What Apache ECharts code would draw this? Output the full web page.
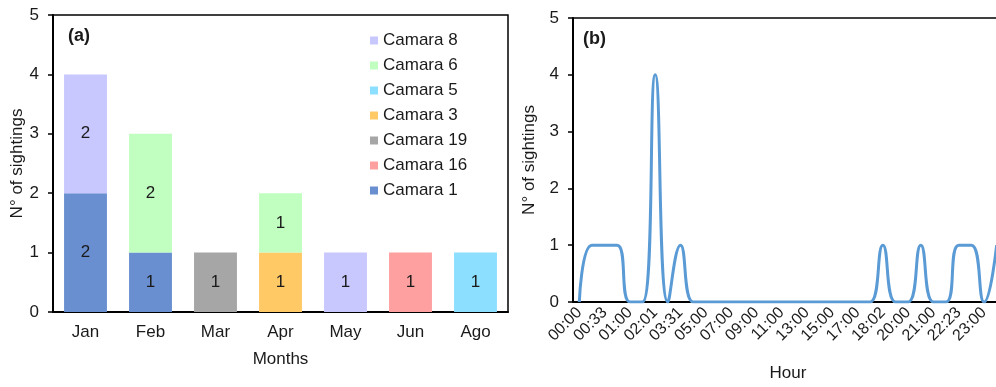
<!DOCTYPE html>
<html>
<head>
<meta charset="utf-8">
<script src="https://cdn.jsdelivr.net/npm/echarts@6/dist/echarts.min.js"></script>
<style>
  html, body { margin: 0; padding: 0; background: #fff; overflow: hidden; }
  /* the original figure is cropped on the right, so the canvas runs past the window */
  #chart { width: 1006px; height: 387px; }
</style>
</head>
<body>
<div id="chart"></div>
<script>
  // panel (a): sightings per month, stacked by camera
  const months = ['Jan', 'Feb', 'Mar', 'Apr', 'May', 'Jun', 'Ago'];
  const camara1 = [2, 1, 0, 0, 0, 0, 0];
  const camara16 = [0, 0, 0, 0, 0, 1, 0];
  const camara19 = [0, 0, 1, 0, 0, 0, 0];
  const camara3 = [0, 0, 0, 1, 0, 0, 0];
  const camara5 = [0, 0, 0, 0, 0, 0, 1];
  const camara6 = [0, 2, 0, 1, 0, 0, 0];
  const camara8 = [2, 0, 0, 0, 1, 0, 0];

  // panel (b): sightings per hour
  const hours = ['00:00', '00:15', '00:33', '00:45', '01:00', '01:30', '02:01', '03:00',
    '03:31', '04:00', '05:00', '06:00', '07:00', '08:00', '09:00', '10:00', '11:00',
    '12:00', '13:00', '14:00', '15:00', '16:00', '17:00', '18:00', '18:02', '19:00',
    '20:00', '20:30', '21:00', '22:00', '22:23', '22:45', '23:00', '23:30'];
  const hourSightings = [0, 1, 1, 1, 0, 0, 4, 0, 1, 0, 0, 0, 0, 0, 0, 0, 0,
    0, 0, 0, 0, 0, 0, 0, 1, 0, 0, 1, 0, 0, 1, 1, 0, 1];

  const font = "'Liberation Sans', Arial, sans-serif";
  const ink = '#1a1a1a';

  const stack = [
    { name: 'Camara 1', data: camara1, color: '#6A8FD0' },
    { name: 'Camara 16', data: camara16, color: '#FFA0A0' },
    { name: 'Camara 19', data: camara19, color: '#A6A6A6' },
    { name: 'Camara 3', data: camara3, color: '#FFC966' },
    { name: 'Camara 5', data: camara5, color: '#8CDFFF' },
    { name: 'Camara 6', data: camara6, color: '#C0FFC0' },
    { name: 'Camara 8', data: camara8, color: '#C8C8FF' }
  ];

  const valueAxis = (gridIndex, gap) => ({
    type: 'value',
    gridIndex: gridIndex,
    min: 0,
    max: 5,
    interval: 1,
    name: 'N° of sightings',
    nameLocation: 'middle',
    nameGap: gap,
    nameTextStyle: { fontFamily: font, fontSize: 17, color: ink },
    axisLine: { show: true, lineStyle: { color: '#000', width: 2 } },
    axisTick: { show: true, length: 5, lineStyle: { color: '#000', width: 1.5 } },
    axisLabel: { fontFamily: font, fontSize: 17, color: ink, margin: 14 },
    splitLine: { show: false }
  });

  const chart = echarts.init(document.getElementById('chart'));
  chart.setOption({
    animation: false,
    textStyle: { fontFamily: font },
    grid: [
      { left: 53, top: 15, width: 455, height: 297, show: true, borderColor: '#000', borderWidth: 1.5 },
      { left: 573, top: 18, width: 430, height: 291, show: true, borderColor: '#000', borderWidth: 1.5 }
    ],
    legend: {
      data: ['Camara 8', 'Camara 6', 'Camara 5', 'Camara 3', 'Camara 19', 'Camara 16', 'Camara 1'],
      orient: 'vertical',
      left: 370,
      top: 32,
      padding: 0,
      icon: 'rect',
      itemWidth: 8,
      itemHeight: 8,
      itemGap: 8,
      textStyle: { fontFamily: font, fontSize: 17, color: ink, lineHeight: 17 }
    },
    graphic: [
      { type: 'text', left: 68, top: 27, style: { text: '(a)', font: 'bold 18px ' + font, fill: ink } },
      { type: 'text', left: 583, top: 30, style: { text: '(b)', font: 'bold 18px ' + font, fill: ink } }
    ],
    xAxis: [
      {
        type: 'category',
        gridIndex: 0,
        data: months,
        name: 'Months',
        nameLocation: 'middle',
        nameGap: 39,
        nameTextStyle: { fontFamily: font, fontSize: 17, color: ink },
        axisLine: { lineStyle: { color: '#000', width: 2 } },
        axisTick: { length: 5, lineStyle: { color: '#000', width: 1.5 } },
        axisLabel: { fontFamily: font, fontSize: 17, color: ink, margin: 12 }
      },
      {
        type: 'category',
        gridIndex: 1,
        data: hours,
        name: 'Hour',
        nameLocation: 'middle',
        nameGap: 63,
        nameTextStyle: { fontFamily: font, fontSize: 17, color: ink },
        axisLine: { lineStyle: { color: '#000', width: 2 } },
        axisTick: { length: 5, interval: 0, lineStyle: { color: '#000', width: 1.5 } },
        axisLabel: { fontFamily: font, fontSize: 16, color: ink, interval: 1, rotate: 45, margin: 8 }
      }
    ],
    yAxis: [valueAxis(0, 26), valueAxis(1, 35)],
    series: stack.map((s) => ({
      name: s.name,
      type: 'bar',
      stack: 'cams',
      xAxisIndex: 0,
      yAxisIndex: 0,
      barWidth: '66%',
      data: s.data.map((v) => (v === 0 ? '-' : v)),
      itemStyle: { color: s.color },
      label: { show: true, position: 'inside', fontFamily: font, fontSize: 17, color: ink }
    })).concat([{
      name: 'Hour',
      type: 'line',
      xAxisIndex: 1,
      yAxisIndex: 1,
      data: hourSightings,
      smooth: 0.5,
      showSymbol: false,
      lineStyle: { color: '#5B9BD5', width: 3 },
      itemStyle: { color: '#5B9BD5' }
    }])
  });
</script>
</body>
</html>
